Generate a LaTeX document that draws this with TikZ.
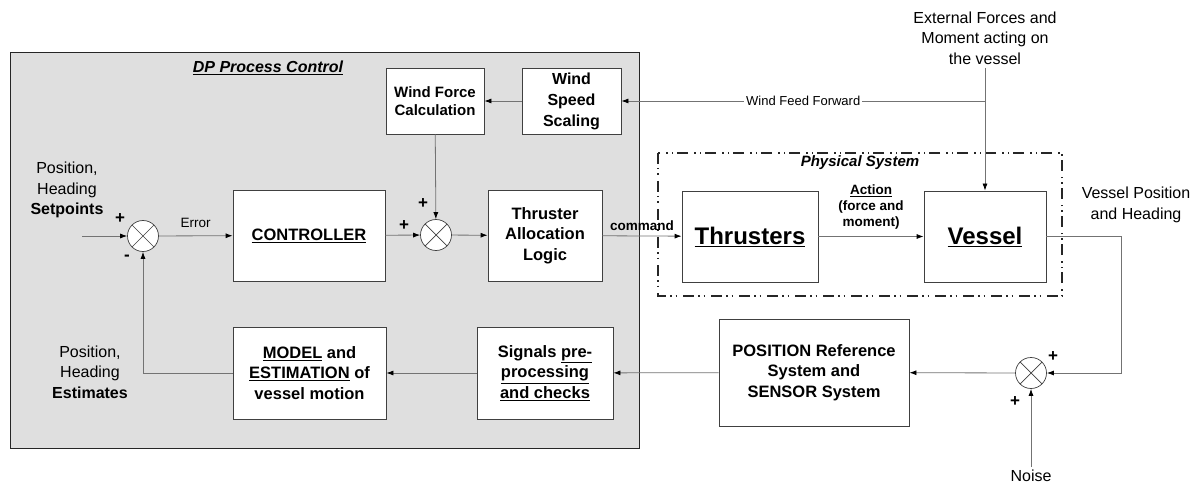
\documentclass[tikz,border=0pt]{standalone}
\usepackage{fontspec}
\setmainfont{Liberation Sans}
\usetikzlibrary{arrows.meta,positioning}

\begin{document}
\begin{tikzpicture}[x=1pt,y=-1pt,
  >={Latex[length=7pt,width=5pt,color=black]},
  line/.style={draw=black!55,line width=0.8pt},
  block/.style={draw=black!75,line width=0.8pt,fill=white,align=center,inner sep=1pt,
    font=\bfseries\fontsize{16.5}{20.5}\selectfont},
  sumj/.style={circle,draw=black!75,line width=0.7pt,fill=white,minimum size=31pt,inner sep=0pt,
    path picture={\draw[black!75,line width=0.7pt]
      (path picture bounding box.north west) -- (path picture bounding box.south east)
      (path picture bounding box.north east) -- (path picture bounding box.south west);}},
  txt/.style={align=center,font=\fontsize{16}{20.5}\selectfont},
  sgn/.style={font=\bfseries\fontsize{17}{17}\selectfont,inner sep=0pt}]

  \useasboundingbox (0,0) rectangle (1198,486);
  \draw[black!85,line width=1pt,fill=gray!25] (10,53) rectangle (639,448);
  \node[font=\bfseries\itshape\fontsize{16}{16}\selectfont] (dptitle) at (268,68) {\underline{DP Process Control}};
  \draw[black!85,line width=1.4pt,dash pattern=on 11pt off 4pt on 1.5pt off 4pt on 1.5pt off 6pt]
    (658,153) rectangle (1062,296);
  \node[font=\bfseries\itshape\fontsize{15}{15}\selectfont] (phystitle) at (860,163) {Physical System};

  \node[block,minimum width=98pt,minimum height=66pt,font=\bfseries\fontsize{15}{18.5}\selectfont]
    (wfc) at (435,101) {Wind Force\\Calculation};
  \node[block,minimum width=99pt,minimum height=66pt,font=\bfseries\fontsize{16}{21}\selectfont]
    (wss) at (571.5,101) {Wind\\Speed\\Scaling};
  \node[block,minimum width=152pt,minimum height=91pt] (ctrl) at (309,235.5) {\underline{CONTROLLER}};
  \node[block,minimum width=114pt,minimum height=91pt] (tal) at (545,235.5) {Thruster\\Allocation\\Logic};
  \node[block,minimum width=136pt,minimum height=91pt,font=\bfseries\fontsize{24}{24}\selectfont]
    (thr) at (750,236.5) {\underline{Thrusters}};
  \node[block,minimum width=122pt,minimum height=91pt,font=\bfseries\fontsize{24}{24}\selectfont]
    (ves) at (985,236.5) {\underline{Vessel}};
  \node[block,minimum width=190pt,minimum height=107pt] (pos) at (814,372.5) {POSITION Reference\\System and\\SENSOR System};
  \node[block,minimum width=136pt,minimum height=92pt] (sig) at (545,373) {Signals \underline{pre-}\\\underline{processing}\\\underline{and checks}};
  \node[block,minimum width=153pt,minimum height=92pt] (mdl) at (309.5,373) {\underline{MODEL} and\\\underline{ESTIMATION} of\\vessel motion};

  \node[sumj] (s1) at (143,236) {};
  \node[sumj] (s2) at (436,235) {};
  \node[sumj] (s3) at (1031,373) {};

  \node[txt] (setp) at (67,190) {Position,\\Heading\\\textbf{Setpoints}};
  \node[txt] (est) at (90,372) {Position,\\Heading\\\textbf{Estimates}};
  \node[txt] (ext) at (985,38) {External Forces and\\Moment acting on\\the vessel};
  \node[txt] (vph) at (1136,205) {Vessel Position\\and Heading};
  \node[txt] (noise) at (1031,476) {Noise};
  \coordinate (sin) at (82,236);

  \draw[line,->] (sin) -- (s1);
  \draw[line,->] (s1) -- node[above=4pt,font=\fontsize{13.5}{13.5}\selectfont] {Error} (ctrl);
  \draw[line,->] (ctrl) -- (s2);
  \draw[line,->] (wfc) -- (s2);
  \draw[line,->] (wss) -- (wfc);
  \draw[line,->] (s2) -- (tal);
  \draw[line,->] (tal) -- node[above=2pt,font=\bfseries\fontsize{13.5}{13.5}\selectfont] {command} (thr);
  \draw[line,->] (thr) -- node[above=3pt,align=center,font=\bfseries\fontsize{13.5}{16}\selectfont]
    {\underline{Action}\\(force and\\moment)} (ves);
  \draw[line,->] (ext) -- (ves);
  \draw[line,->] (ext.south |- wss.east) -- node[fill=white,inner sep=2pt,font=\fontsize{13}{13}\selectfont]
    {Wind Feed Forward} (wss.east);
  \draw[line,->] (ves.east) -- ++(75,0) |- (s3);
  \draw[line,->] (noise) -- (s3);
  \draw[line,->] (s3) -- (pos);
  \draw[line,->] (pos) -- (sig);
  \draw[line,->] (sig) -- (mdl);
  \draw[line,->] (mdl) -| (s1);

  \node[sgn] (p1) at (120,219) {+};
  \node[sgn] (m1) at (127,258) {-};
  \node[sgn] (p2a) at (404,226) {+};
  \node[sgn] (p2b) at (423,204) {+};
  \node[sgn] (p3a) at (1053,357) {+};
  \node[sgn] (p3b) at (1015,402) {+};
\end{tikzpicture}
\end{document}
